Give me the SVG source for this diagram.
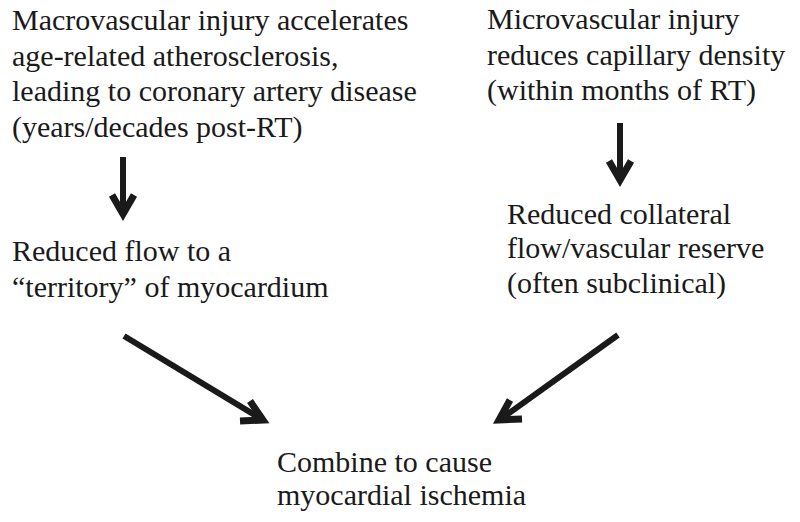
<svg xmlns="http://www.w3.org/2000/svg" width="800" height="522" viewBox="0 0 800 522">
<style>
text{font-family:"Liberation Serif","Times New Roman",serif;font-size:30px;fill:#1a1a1a}
.shaft{stroke:#1a1a1a;stroke-width:6;stroke-linecap:butt;fill:none}
.head{stroke:#1a1a1a;stroke-width:7;stroke-linejoin:miter;stroke-linecap:butt;fill:none}
</style>
<rect width="800" height="522" fill="#fff"/>
<g id="macro">
<text x="12" y="30">Macrovascular injury accelerates</text>
<text x="12" y="66">age-related atherosclerosis,</text>
<text x="12" y="101">leading to coronary artery disease</text>
<text x="12" y="137">(years/decades post-RT)</text>
</g>
<g id="micro">
<text x="487" y="29">Microvascular injury</text>
<text x="487" y="65">reduces capillary density</text>
<text x="487" y="100">(within months of RT)</text>
</g>
<g id="reducedflow">
<text x="12" y="261">Reduced flow to a</text>
<text x="12" y="297">“territory” of myocardium</text>
</g>
<g id="collateral">
<text x="507" y="224">Reduced collateral</text>
<text x="507" y="258">flow/vascular reserve</text>
<text x="507" y="293">(often subclinical)</text>
</g>
<g id="combine">
<text x="277" y="472">Combine to cause</text>
<text x="277" y="505">myocardial ischemia</text>
</g>
<g id="connectors">
<line class="shaft" x1="123" y1="157" x2="123" y2="212"/>
<path class="head" d="M112 195 L123 214 L134 195"/>
<line class="shaft" x1="620" y1="123" x2="620" y2="178"/>
<path class="head" d="M609 161 L620 180 L631 161"/>
<line class="shaft" x1="124" y1="336" x2="258" y2="417"/>
<path class="head" d="M250 401 L263 420 L240 421"/>
<line class="shaft" x1="618" y1="335" x2="505" y2="416"/>
<path class="head" d="M510 400 L499 420 L522 419"/>
</g>
</svg>
